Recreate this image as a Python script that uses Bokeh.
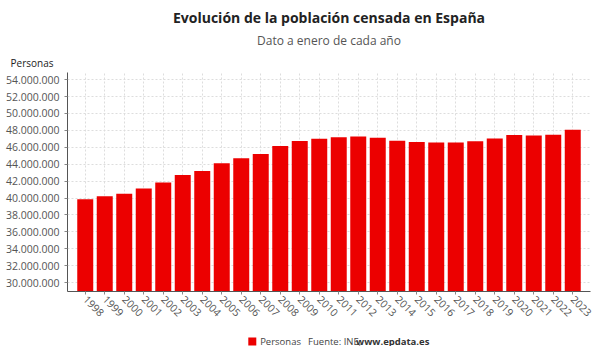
from bokeh.plotting import figure
from bokeh.layouts import column
from bokeh.models import Range1d, FixedTicker, Title, ColumnDataSource
from bokeh.core.properties import value
from bokeh.embed import file_html
from bokeh.resources import INLINE
import math

years = [str(y) for y in range(1998, 2024)]
personas = [39852651, 40202160, 40499791, 41116842, 41837894, 42717064, 43197684,
            44108530, 44708964, 45200737, 46157822, 46745807, 47021031, 47190493,
            47265321, 47129783, 46771341, 46624382, 46557008, 46572132, 46722980,
            47026208, 47450795, 47385107, 47475420, 48085361]
y_ticks = list(range(30000000, 54000001, 2000000))
series_name = "Personas"
source_text = "Fuente: INE, "
source_link = "www.epdata.es"

FONT = "Open Sans"
RED = "#ec0000"

X0, X1 = -0.91, 25.91
Y0, Y1 = 28950000, 54840000

p = figure(frame_width=523, frame_height=219, output_backend="svg", toolbar_location=None,
           x_range=Range1d(X0, X1), y_range=Range1d(Y0, Y1),
           min_border_left=67, min_border_right=10, min_border_top=72,
           min_border_bottom=40)
p.outline_line_color = None

src = ColumnDataSource(dict(x=list(range(len(years))), top=personas, year=years))
p.vbar(x="x", top="top", bottom=Y0, width=0.82, source=src,
       fill_color=RED, line_color=None)

# axes
p.xaxis.ticker = FixedTicker(ticks=list(range(len(years))))
p.xaxis.major_label_overrides = {i: y for i, y in enumerate(years)}
p.xaxis.major_label_orientation = -math.pi / 4
p.xaxis.major_label_standoff = 3
p.yaxis.ticker = FixedTicker(ticks=y_ticks)
p.yaxis.major_label_overrides = {v: f"{v:,}".replace(",", ".") for v in y_ticks}
for ax in (p.xaxis[0], p.yaxis[0]):
    ax.axis_line_color = "#555555"
    ax.major_tick_line_color = "#888888"
    ax.minor_tick_line_color = None
    ax.major_tick_in = 0
    ax.major_tick_out = 3
    ax.major_label_text_font = FONT
    ax.major_label_text_font_size = "10.5px"
    ax.major_label_text_color = "#555555"

p.xgrid.ticker = FixedTicker(ticks=list(range(len(years))))
for g in (p.xgrid[0], p.ygrid[0]):
    g.grid_line_color = "#dddddd"
    g.grid_line_dash = "2 2"

# titles, nearest the plot first
p.add_layout(Title(text="Personas", align="left", offset=-57, text_font=FONT,
                   text_font_size="10px", text_font_style="normal",
                   text_color="#222222", standoff=5), "above")
p.add_layout(Title(text="Dato a enero de cada año", align="center", offset=-28,
                   text_font=FONT, text_font_size="12px", text_font_style="normal",
                   text_color="#555555", standoff=5), "above")
p.add_layout(Title(text="Evolución de la población censada en España", align="center",
                   offset=-28, text_font=FONT, text_font_size="14px",
                   text_font_style="bold", text_color="#222222", standoff=2), "above")

# legend / source strip below the chart (pixel coordinates of this strip)
q = figure(width=600, height=20, output_backend="svg", toolbar_location=None,
           x_range=Range1d(0, 600), y_range=Range1d(0, 20),
           x_axis_location=None, y_axis_location=None,
           min_border_left=0, min_border_right=0, min_border_top=0, min_border_bottom=0)
q.outline_line_color = None
q.grid.visible = False
q.scatter(x=[212], y=[10], marker="square", size=8, fill_color=RED, line_color=None)
q.text(x=[221], y=[10], text=[series_name], text_font=value(FONT),
       text_font_size="9.5px", text_color="#444444", text_baseline="middle")
q.text(x=[276], y=[10], text=[source_text], text_font=value(FONT),
       text_font_size="9.5px", text_color="#444444", text_baseline="middle")
q.text(x=[331], y=[10], text=[source_link], text_font=value(FONT),
       text_font_size="9.5px", text_font_style="bold", text_color="#333333",
       text_baseline="middle")

page = column(p, q, spacing=0)
open("out.html", "w").write(file_html(page, INLINE))
